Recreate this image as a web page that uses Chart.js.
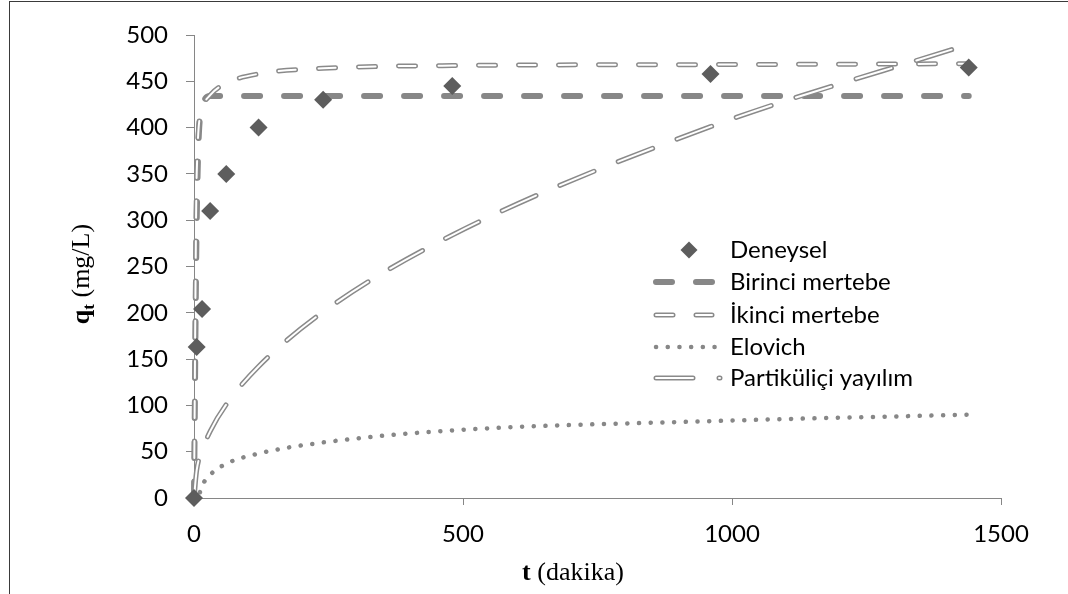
<!DOCTYPE html>
<html>
<head>
<meta charset="utf-8">
<script src="https://cdn.jsdelivr.net/npm/chart.js@4.4.1/dist/chart.umd.min.js"></script>
<style>
  html, body { margin: 0; padding: 0; background: #fff; }
  #grafico { display: block; }
</style>
</head>
<body>
<canvas id="grafico" width="1068" height="594"></canvas>
<script>
// zaman (dakika)
const tempos = [0, 5, 15, 30, 60, 120, 240, 480, 960, 1440];
// q_t (mg/L)
const deneysel = [0, 163, 204, 310, 350, 400, 430, 445, 458, 465];
const birinciMertebe = [0, 300, 422, 434, 434, 434, 434, 434, 434, 434];
const ikinciMertebe = [0, 350, 420, 435, 448, 458, 464, 467, 468, 469];
const elovich = [null, -6, 13, 25, 37, 48, 60, 73, 83, 90];
const partikulici = [0, 30, 51, 72, 101, 142, 201, 284, 401, 490];

const rotulos = ["Deneysel", "Birinci mertebe", "İkinci mertebe", "Elovich", "Partiküliçi yayılım"];
const xTicks = [0, 500, 1000, 1500];
const yTicks = [0, 50, 100, 150, 200, 250, 300, 350, 400, 450, 500];

const CINZA = "#878787";
const FONTE = "Lato";
const SERIF = '"Liberation Serif"';

const estilos = {
  birinci: { cor: CINZA, largura: 6, traco: [16, 24] },
  ikinci: { cor: "#8a8a8a", largura: 5, traco: [17, 23], contorno: true },
  elovich: { cor: CINZA, largura: 4.5, traco: [0.1, 11.6] },
  partikul: { cor: "#8a8a8a", largura: 5, traco: [37, 26], contorno: true },
};

function pontos(valores) {
  return tempos
    .map((t, i) => ({ x: t, y: valores[i] }))
    .filter((p) => p.y !== null);
}

function linha(label, valores, est, order, branco) {
  return {
    label,
    data: pontos(valores),
    showLine: true,
    borderColor: branco ? "#ffffff" : est.cor,
    borderWidth: branco ? 2 : est.largura,
    borderDash: est.traco,
    borderCapStyle: "round",
    borderJoinStyle: "round",
    pointRadius: 0,
    fill: false,
    cubicInterpolationMode: "monotone",
    clip: false,
    order,
  };
}

function tracarAmostra(ctx, y, est, xIni, xFim) {
  const camadas = est.contorno
    ? [[est.cor, est.largura], ["#ffffff", 2]]
    : [[est.cor, est.largura]];
  camadas.forEach(([cor, larg]) => {
    ctx.beginPath();
    ctx.setLineDash(est.traco);
    ctx.lineDashOffset = 0;
    ctx.lineCap = "round";
    ctx.strokeStyle = cor;
    ctx.lineWidth = larg;
    ctx.moveTo(xIni, y);
    ctx.lineTo(xFim, y);
    ctx.stroke();
  });
  ctx.setLineDash([]);
}

const moldura = {
  id: "moldura",
  beforeDraw(chart) {
    const ctx = chart.ctx;
    ctx.save();
    ctx.fillStyle = "#ffffff";
    ctx.fillRect(0, 0, chart.width, chart.height);
    ctx.strokeStyle = "#3a3a3a";
    ctx.lineWidth = 1;
    ctx.strokeRect(9.5, 1.5, 1200, 800);
    ctx.restore();
  },
};

const titulos = {
  id: "titulos",
  afterDraw(chart) {
    const ctx = chart.ctx;
    ctx.save();
    ctx.fillStyle = "#000";
    ctx.textBaseline = "alphabetic";

    // eixo y: q_t (mg/L)
    ctx.translate(82, 274);
    ctx.rotate(-Math.PI / 2);
    const fq = "bold 26px " + SERIF;
    const ft = "bold 17px " + SERIF;
    const fr = "26px " + SERIF;
    ctx.font = fq;
    const wq = ctx.measureText("q").width;
    ctx.font = ft;
    const wt = ctx.measureText("t").width;
    ctx.font = fr;
    const wr = ctx.measureText(" (mg/L)").width;
    let x = -(wq + wt + wr) / 2;
    ctx.font = fq;
    ctx.fillText("q", x, 7);
    x += wq;
    ctx.font = ft;
    ctx.fillText("t", x, 12);
    x += wt;
    ctx.font = fr;
    ctx.fillText(" (mg/L)", x, 7);
    ctx.setTransform(1, 0, 0, 1, 0, 0);

    // eixo x: t (dakika)
    ctx.font = fq;
    const wt2 = ctx.measureText("t").width;
    ctx.font = fr;
    const wd = ctx.measureText(" (dakika)").width;
    let x2 = 573 - (wt2 + wd) / 2;
    ctx.font = fq;
    ctx.fillText("t", x2, 580);
    ctx.font = fr;
    ctx.fillText(" (dakika)", x2 + wt2, 580);
    ctx.restore();
  },
};

const legenda = {
  id: "legenda",
  afterDraw(chart) {
    const ctx = chart.ctx;
    const linhasY = [250, 282, 315, 347, 378];
    const xTexto = 730;
    ctx.save();

    // Deneysel
    ctx.fillStyle = "#5d5d5d";
    ctx.beginPath();
    ctx.moveTo(689, linhasY[0] - 8.5);
    ctx.lineTo(697.5, linhasY[0]);
    ctx.lineTo(689, linhasY[0] + 8.5);
    ctx.lineTo(680.5, linhasY[0]);
    ctx.closePath();
    ctx.fill();

    tracarAmostra(ctx, linhasY[1], estilos.birinci, 656, 712);
    tracarAmostra(ctx, linhasY[2], estilos.ikinci, 656, 712);
    tracarAmostra(ctx, linhasY[3], estilos.elovich, 656, 716);
    tracarAmostra(ctx, linhasY[4], estilos.partikul, 656, 720);

    ctx.fillStyle = "#000";
    ctx.font = "24px " + FONTE;
    ctx.textBaseline = "middle";
    rotulos.forEach((r, i) => ctx.fillText(r, xTexto, linhasY[i]));
    ctx.restore();
  },
};

const ctx = document.getElementById("grafico").getContext("2d");
const chart = new Chart(ctx, {
  type: "scatter",
  data: {
    datasets: [
      {
        label: rotulos[0],
        data: pontos(deneysel),
        pointStyle: "rectRot",
        pointRadius: 9,
        backgroundColor: "#5d5d5d",
        borderColor: "#5d5d5d",
        borderWidth: 0,
        showLine: false,
        clip: false,
        order: 1,
      },
      linha(rotulos[1], birinciMertebe, estilos.birinci, 8),
      linha(rotulos[2], ikinciMertebe, estilos.ikinci, 7),
      linha(rotulos[2] + "_i", ikinciMertebe, estilos.ikinci, 6, true),
      Object.assign(linha(rotulos[3], elovich, estilos.elovich, 5), {
        clip: { left: 10, top: 10, right: 10, bottom: 0 },
      }),
      linha(rotulos[4], partikulici, estilos.partikul, 4),
      linha(rotulos[4] + "_i", partikulici, estilos.partikul, 3, true),
    ],
  },
  options: {
    responsive: false,
    animation: false,
    events: [],
    layout: { padding: { left: 0, right: 67, top: 35, bottom: 0 } },
    plugins: {
      legend: { display: false },
      tooltip: { enabled: false },
    },
    scales: {
      x: {
        type: "linear",
        min: 0,
        max: 1500,
        afterBuildTicks: (s) => {
          s.ticks = xTicks.map((v) => ({ value: v }));
        },
        afterFit: (s) => {
          s.height = 96;
        },
        grid: { drawOnChartArea: false, color: "#868686", tickLength: 7 },
        border: { color: "#868686", width: 1 },
        ticks: {
          color: "#000",
          font: { family: FONTE, size: 24 },
          padding: 15,
          maxRotation: 0,
          autoSkip: false,
          callback: (v) => String(v),
        },
      },
      y: {
        min: 0,
        max: 500,
        afterBuildTicks: (s) => {
          s.ticks = yTicks.map((v) => ({ value: v }));
        },
        afterFit: (s) => {
          s.width = 194;
        },
        grid: { drawOnChartArea: false, color: "#868686", tickLength: 8 },
        border: { color: "#868686", width: 1 },
        ticks: {
          color: "#000",
          font: { family: FONTE, size: 24 },
          padding: 18,
          autoSkip: false,
          callback: (v) => String(v),
        },
      },
    },
  },
  plugins: [moldura, titulos, legenda],
});
</script>
</body>
</html>
